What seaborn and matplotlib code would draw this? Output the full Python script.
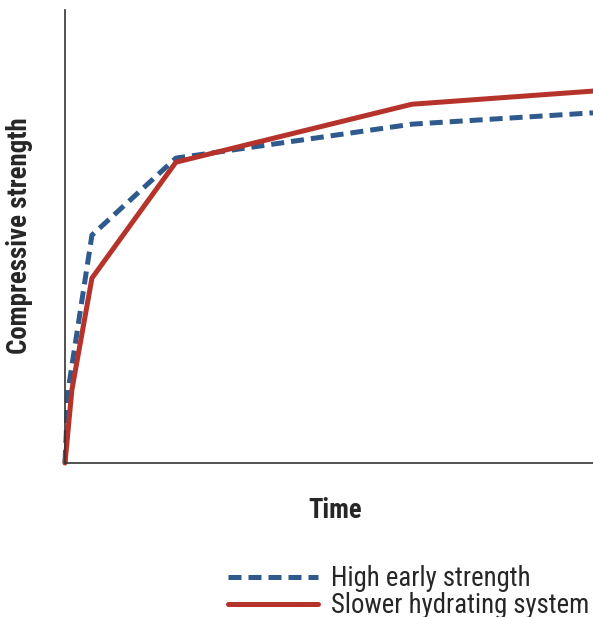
import matplotlib
matplotlib.use('Agg')
import matplotlib.pyplot as plt
import seaborn as sns

# values (x = time, y = strength, arbitrary units 0-100)
time_high = [0, 0.6, 5.1, 21, 65.7, 100]
strength_high = [0, 16.1, 50.3, 67.3, 74.8, 77.3]
time_slow = [0, 1.3, 5.1, 21, 65.7, 100]
strength_slow = [0, 16.1, 40.8, 66.4, 79.2, 82.1]
series_names = ['High early strength', 'Slower hydrating system']

sns.set_style('white')
plt.rcParams['font.family'] = ['Roboto Condensed', 'DejaVu Sans']

fig = plt.figure(figsize=(5.93, 6.17), dpi=100)
ax = fig.add_axes([65/593, 154/617, 528/593, 453/617])

sns.lineplot(x=time_high, y=strength_high, ax=ax, color='#2e5a8e', lw=3.6,
             linestyle=(0, (2.6, 1.4)), label=series_names[0], clip_on=False)
sns.lineplot(x=time_slow, y=strength_slow, ax=ax, color='#b5332a', lw=3.6,
             label=series_names[1], clip_on=False, solid_capstyle='round')

ax.set_xlim(0, 100)
ax.set_ylim(0, 100)
ax.set_xticks([])
ax.set_yticks([])
for s in ['top', 'right']:
    ax.spines[s].set_visible(False)
for s in ['left', 'bottom']:
    ax.spines[s].set_color('#333333')
    ax.spines[s].set_linewidth(1.2)

ax.set_xlabel('Time', fontsize=19.3, fontweight='bold')
ax.set_ylabel('Compressive strength', fontsize=19.4, fontweight='bold')
ax.xaxis.set_label_coords(270/528, -34/453)
ax.yaxis.set_label_coords(-32/528, 227/453)

leg = ax.legend(loc='upper left', bbox_to_anchor=(228/593, 1 - 565/617),
                bbox_transform=fig.transFigure, frameon=False,
                fontsize=19.3, handlelength=3.36, handletextpad=0.49, labelspacing=0.0,
                borderaxespad=0, borderpad=0)
fig.savefig('out.png', dpi=100)
